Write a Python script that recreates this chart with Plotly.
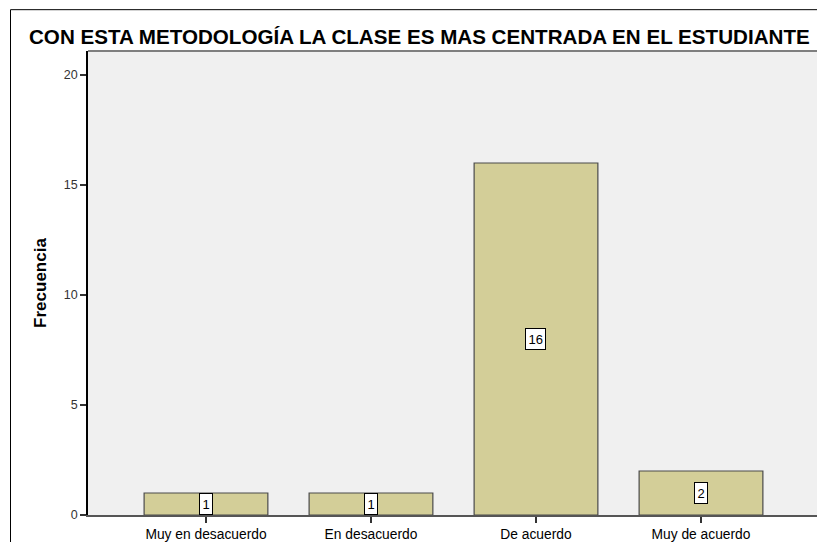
import plotly.graph_objects as go

categories = ["Muy en desacuerdo", "En desacuerdo", "De acuerdo", "Muy de acuerdo"]
frecuencia = [1, 1, 16, 2]
y_ticks = [0, 5, 10, 15, 20]
title_text = "CON ESTA METODOLOGÍA LA CLASE ES MAS CENTRADA EN EL ESTUDIANTE"

W, H = 817, 542
ML, MR, MT, MB = 88, 0, 51, 25
pw = W - ML - MR
ph = H - MT - MB
FONT = "Liberation Sans, Arial, sans-serif"

def px_x(x):
    return (x - ML) / pw

def px_y(y):
    return 1 - (y - MT) / ph

fig = go.Figure()
fig.add_trace(go.Bar(
    x=list(range(len(categories))), y=frecuencia, width=0.75,
    marker=dict(color="#D3CE98", line=dict(color="#4A4A4A", width=1.2)),
    hoverinfo="skip", showlegend=False,
))

for i, v in enumerate(frecuencia):
    fig.add_annotation(
        x=i, y=v / 2, xref="x", yref="y", text=str(v), showarrow=False,
        font=dict(family=FONT, size=13, color="black"),
        bgcolor="white", bordercolor="black", borderwidth=1, borderpad=2.5,
    )

fig.add_annotation(
    x=px_x(27), y=px_y(36), xref="paper", yref="paper", text=f"<b>{title_text}</b>",
    showarrow=False, xanchor="left", yanchor="middle",
    font=dict(family=FONT, size=20.6, color="black"),
)

# outer frame lines
fig.add_shape(type="line", xref="paper", yref="paper",
              x0=px_x(10.5), x1=px_x(830), y0=px_y(9.5), y1=px_y(9.5),
              line=dict(color="black", width=1))
fig.add_shape(type="line", xref="paper", yref="paper",
              x0=px_x(10.5), x1=px_x(10.5), y0=px_y(9.5), y1=px_y(560),
              line=dict(color="black", width=1))
# plot top border
fig.add_shape(type="line", xref="paper", yref="paper",
              x0=0, x1=1.02, y0=1, y1=1, line=dict(color="#7F7F7F", width=2))

fig.update_layout(
    width=W, height=H,
    margin=dict(l=ML, r=MR, t=MT, b=MB),
    paper_bgcolor="white", plot_bgcolor="#F0F0F0",
    font=dict(family=FONT, size=12, color="black"),
)
fig.update_xaxes(
    range=[-0.715, 3.703], tickmode="array",
    tickvals=list(range(len(categories))), ticktext=categories,
    ticks="outside", ticklen=6, tickcolor="#333", tickwidth=1.5,
    showline=True, linecolor="#555", linewidth=1.5,
    showgrid=False, zeroline=False,
    tickfont=dict(family=FONT, size=13.8, color="black"),
)
fig.update_yaxes(
    range=[0, 21.09], tickmode="array", tickvals=y_ticks,
    ticks="outside", ticklen=6, tickcolor="#333", tickwidth=1.5,
    showline=True, linecolor="black", linewidth=1.5,
    showgrid=False, zeroline=False,
    tickfont=dict(family=FONT, size=12.5, color="#333"),
    title=dict(text="<b>Frecuencia</b>", font=dict(family=FONT, size=17, color="black"), standoff=13),
)

fig.write_html(
    "out.html",
    config={"displayModeBar": False},
    post_script="document.body.style.margin='0';document.body.style.overflow='hidden';",
)
